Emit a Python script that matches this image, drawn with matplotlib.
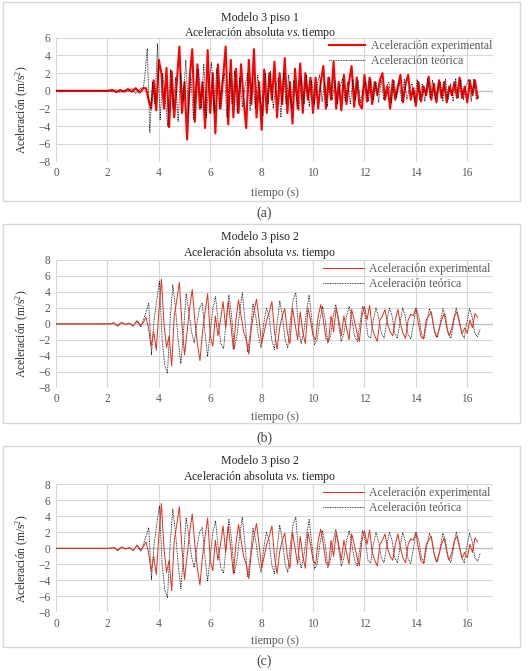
import numpy as np
import matplotlib
matplotlib.use("Agg")
import matplotlib.pyplot as plt
from matplotlib.patches import Rectangle

plt.rcParams['font.family'] = ['Liberation Serif', 'DejaVu Serif']
plt.rcParams['mathtext.fontset'] = 'custom'
plt.rcParams['mathtext.rm'] = 'Liberation Serif'
plt.rcParams['mathtext.it'] = 'Liberation Serif:italic'

# ---------------- data ----------------
# Panel (a): Modelo 3 piso 1
pre_t_a = [0.0, 2.0, 2.2, 2.35, 2.5, 2.65, 2.8, 2.95, 3.1, 3.25, 3.4]
pre_exp_a = [0.0, 0.0, 0.1, -0.15, 0.1, -0.1, 0.2, -0.1, 0.3, -0.2, 0.3]
pre_teo_a = [0.0, 0.0, -0.1, 0.15, -0.2, 0.1, -0.1, 0.3, -0.3, 0.2, 0.4]

exp_a_start, exp_a_dt = 3.50, 0.10
exp_a = [0.3, -1.0, -2.0, 1.2, -2.2, 3.5, 2.0, -2.0, 2.6, -4.1,
         2.2, -3.0, 1.0, 5.0, -2.5, 1.0, -5.5, 1.5, 4.7, -3.5,
         3.0, -2.0, 1.0, -4.2, 4.6, -2.5, 2.0, -4.8, 3.0, -2.0,
         1.5, 5.0, -3.8, 3.5, -3.0, 2.5, -2.5, 3.0, -1.0, -4.2,
         3.5, -1.5, 4.7, -3.0, 1.0, -4.4, 2.4, -2.5, 2.0, -1.0,
         3.3, -3.0, 2.0, -1.5, 3.7, -2.5, 1.0, -3.7, 2.5, -2.0,
         3.1, -2.5, 2.0, -1.0, 1.5, -2.5, 1.5, -2.0, 1.0, 2.8,
         -2.0, 1.5, -1.0, 3.3, -2.0, 1.0, -2.2, 1.8, -1.5, 1.0,
         2.8, -1.8, 1.5, -1.5, -2.0, 1.8, -1.2, 1.5, -1.5, 1.0,
         -0.5, 1.2, 2.0, -1.0, 0.5, -2.0, 1.2, -1.0, 0.5, 1.8,
         -1.3, 0.8, 1.8, -1.0, 0.3, -1.7, 1.0, -1.2, 0.5, -0.5,
         1.6, -1.0, 0.8, -1.3, 1.2, -0.8, 1.0, -1.3, 0.5, -0.5,
         1.0, -0.8, 1.5, -0.8, 0.5, -1.3, 1.2, -0.5, 1.2, -0.8]

teo_a_start, teo_a_dt = 3.45, 0.10
teo_a = [1.5, 4.8, -4.7, 1.0, -1.5, 5.3, -3.3, 2.0, -1.0, -4.0,
         2.4, -2.0, 1.5, -3.5, 2.0, -1.0, 3.5, -2.5, 1.5, -3.2,
         1.0, 2.5, -2.0, 3.0, -3.0, 1.0, 3.2, -2.5, 2.5, -2.0,
         1.0, 2.0, -3.0, 2.0, -1.5, 2.2, -2.5, 1.5, -1.8, 0.5,
         2.0, -2.2, 1.5, -2.0, 1.8, -1.0, -2.8, 2.0, -1.5, 2.2,
         -2.0, 0.5, 1.5, -3.0, 2.0, -1.5, 1.8, -2.0, 1.2, -0.5,
         -2.2, 1.5, -1.5, 1.8, -1.8, 1.2, -1.5, 0.5, 1.8, -1.2,
         1.0, -1.8, 1.5, -1.0, 1.2, -1.5, 0.5, 1.4, -1.2, 1.0,
         -1.5, 1.3, -1.0, 1.2, -1.4, 0.3, 1.0, -1.2, 1.3, -1.0,
         1.0, -1.3, 1.2, -1.0, 0.5, 1.0, -1.4, 1.2, -0.8, 1.0,
         -1.2, 1.3, -1.0, 0.3, 0.8, -1.2, 1.3, -1.0, 0.8, -1.2,
         1.4, -0.8, 1.2, -1.0, 0.3, 1.0, -1.2, 1.3, -1.0, 0.8,
         -1.2, 1.4, -0.8, 1.2, -1.0, 0.5, 1.3, -1.2, 1.3, -1.0,
         -0.5]

# Panel (b)/(c): Modelo 3 piso 2
pre_t_b = [0.0, 2.1, 2.25, 2.4, 2.55, 2.7, 2.85, 3.0, 3.15, 3.3]
pre_exp_b = [0.0, 0.0, 0.1, -0.3, 0.15, -0.1, 0.1, -0.3, 0.4, -0.2]
pre_teo_b = [0.0, 0.0, 0.15, -0.2, 0.2, -0.05, 0.05, -0.2, 0.3, -0.4]

exp_b_start, exp_b_dt = 3.40, 0.10
exp_b = [0.2, 0.8, -0.5, -2.8, -1.0, -3.3, 1.5, 5.6, 0.0, -3.0,
         -1.5, -5.3, 1.0, 3.0, 5.2, 0.0, -3.9, -1.0, 2.0, 4.3,
         0.5, -2.5, -4.6, -1.0, 1.5, 3.8, -1.5, -2.8, 1.0, -1.5,
         0.5, 2.8, -0.5, 2.8, 0.0, -3.2, 0.5, 3.0, 1.0, -1.0,
         -2.0, -3.8, -0.5, 1.5, 3.1, 0.5, -2.5, -1.0, 0.5, 1.5,
         2.8, -1.0, -3.2, -0.5, 1.0, 1.9, -1.0, -2.5, 2.0, 0.0,
         -2.0, 1.5, -1.0, -2.5, 2.0, 0.5, -1.5, -2.0, 1.0, 2.4,
         0.5, -1.8, -2.2, 1.0, -1.0, 2.0, 0.5, -1.5, 1.0, -0.5,
         -2.0, 1.8, 0.5, -1.0, -2.2, 1.0, 2.2, 0.5, 2.3, -0.5,
         -1.5, -2.2, 0.5, 1.0, 1.8, 0.0, -1.0, -1.5, 0.5, 1.8,
         0.0, -1.2, -1.8, 0.5, 1.2, 1.0, 2.0, 0.0, -1.6, -1.9,
         0.5, 1.0, 1.5, -0.5, -1.7, -0.8, 0.5, 1.3, -0.5, -1.5,
         -0.5, 1.0, 1.5, 0.0, -1.2, -0.5, -1.2, 0.5, -0.5, 1.3,
         0.8]

teo_b_start, teo_b_dt = 3.40, 0.104
teo_b = [0.5, 1.5, 2.6, -3.9, 0.5, 3.0, 5.3, -2.0, -5.2, -6.2,
         0.5, 4.9, 2.0, -2.0, -5.0, -1.0, 3.8, 1.5, -1.0, -2.4,
         0.0, 2.0, 2.6, -1.0, -4.1, -1.0, 2.0, 3.4, 0.0, -2.5,
         -3.1, 0.5, 3.6, 1.0, -3.1, -1.5, 1.5, 3.9, 0.5, -3.5,
         -1.0, 2.5, 1.0, -1.5, -3.0, 0.0, 2.0, 1.0, -2.0, -3.2,
         0.0, 2.9, 1.0, -2.0, -3.0, 0.5, 3.0, 3.9, -0.5, -2.5,
         -1.0, 1.5, 3.6, 0.5, -2.6, -2.0, 0.5, 2.2, 0.5, -2.4,
         -1.5, 1.0, 2.4, 0.0, -2.2, -1.2, 1.0, 2.2, 0.5, -1.5,
         -2.2, 0.0, 2.2, 1.0, -1.5, -1.8, 0.5, 2.0, 0.8, -1.2,
         -1.8, 0.2, 2.0, 1.0, -1.2, -1.8, 0.2, 2.0, 0.8, -1.3,
         -1.9, 0.0, 2.0, 1.0, -1.2, -1.8, 0.2, 1.9, 0.8, -1.2,
         -1.7, 0.0, 1.9, 1.0, -1.3, -1.8, 0.0, 2.0, 0.8, -1.2,
         -1.8, 0.2, 1.9, 0.8, -1.2, -1.6, -0.6]

titles = ["Modelo 3 piso 1", "Modelo 3 piso 2", "Modelo 3 piso 2"]
subtitles = [r'Aceleración absoluta $\mathit{vs.}$tiempo',
             r'Aceleración absoluta $\mathit{vs.}\,$tiempo',
             r'Aceleración absoluta $\mathit{vs.}\,$tiempo']
captions = ["(a)", "(b)", "(c)"]
y_ticks = [list(range(-8, 7, 2)), list(range(-8, 9, 2)), list(range(-8, 9, 2))]
x_ticks = list(range(0, 17, 2))
legend_labels = ["Aceleración experimental", "Aceleración teórica"]


def series(pre_t, pre_v, start, dt, vals):
    t = list(pre_t) + [round(start + dt * i, 3) for i in range(len(vals))]
    return np.array(t), np.array(list(pre_v) + list(vals))


panel_data = [
    (series(pre_t_a, pre_exp_a, exp_a_start, exp_a_dt, exp_a),
     series(pre_t_a, pre_teo_a, teo_a_start, teo_a_dt, teo_a)),
    (series(pre_t_b, pre_exp_b, exp_b_start, exp_b_dt, exp_b),
     series(pre_t_b, pre_teo_b, teo_b_start, teo_b_dt, teo_b)),
    (series(pre_t_b, pre_exp_b, exp_b_start, exp_b_dt, exp_b),
     series(pre_t_b, pre_teo_b, teo_b_start, teo_b_dt, teo_b)),
]

# ---------------- layout ----------------
W, H = 532, 671
fig = plt.figure(figsize=(W / 100, H / 100), dpi=100)

def fx(px):
    return px / W

def fy(py):
    return 1 - py / H

# (axes top px, axes bottom px, box top px, box bottom px, title y1, title y2, legend y, xlabel y, caption y)
layouts = [
    (37.7, 161.7, 2, 201, 18, 33, 46, 193, 213),
    (260.0, 387.7, 224, 423, 237, 253, 269, 417, 438),
    (484.3, 612.3, 446, 647, 461, 477, 493, 641, 661),
]
ax_left, ax_right = 56, 493
grey = '#595959'
grid_c = '#d9d9d9'

for i, (lay, data) in enumerate(zip(layouts, panel_data)):
    atop, abot, btop, bbot, ty1, ty2, ly, xly, cy = lay
    fig.patches.append(Rectangle((fx(3), fy(bbot)), fx(517), (bbot - btop) / H,
                                 transform=fig.transFigure, fill=False,
                                 edgecolor=grid_c, linewidth=1.0))
    ax = fig.add_axes([fx(ax_left), fy(abot), fx(ax_right - ax_left), (abot - atop) / H])
    (te, ve), (tt, vt) = data
    yt = y_ticks[i]
    ax.set_xlim(0, 17)
    ax.set_ylim(yt[0], yt[-1])
    ax.set_xticks(x_ticks)
    ax.set_yticks(yt)
    ax.set_yticklabels([("−" + str(-v)) if v < 0 else str(v) for v in yt])
    for v in yt:
        ax.axhline(v, color=grid_c, lw=0.8, zorder=0)
    for v in x_ticks:
        ax.axvline(v, color=grid_c, lw=0.8, zorder=0)
    ax.axvline(17, color=grid_c, lw=0.8, zorder=0)
    ax.axhline(0, color='#bfbfbf', lw=0.9, zorder=0.5)
    for s in ax.spines.values():
        s.set_visible(False)
    ax.tick_params(length=0, labelsize=8.3, labelcolor=grey, pad=4)

    if i == 0:
        l1, = ax.plot(te, ve, color='#ff0000', lw=1.5, zorder=2)
        l2, = ax.plot(tt, vt, color='black', lw=0.6, ls=(0, (1, 1)), zorder=3)
    else:
        l2, = ax.plot(tt, vt, color='black', lw=0.6, ls=(0, (1, 1)), zorder=2)
        l1, = ax.plot(te, ve, color='#e0301e', lw=0.7, zorder=3)

    leg_x0 = 333 if i == 0 else 327
    leg = ax.legend([l1, l2], legend_labels, loc='upper left', frameon=False,
                    bbox_to_anchor=((leg_x0 - 6 - ax_left) / (ax_right - ax_left),
                                    1 - (ly - 8 - atop) / (abot - atop)),
                    fontsize=8.5, handlelength=3.0 if i == 0 else 3.4,
                    handletextpad=0.5, labelspacing=0.25, borderaxespad=0,
                    borderpad=0.2)
    for t in leg.get_texts():
        t.set_color(grey)

    cx = 260
    fig.text(fx(cx), fy(ty1), titles[i], ha='center', va='center', fontsize=8.6, color='#262626')
    fig.text(fx(cx), fy(ty2), subtitles[i], ha='center',
             va='center', fontsize=8.6, color='#262626')
    fig.text(fx(275), fy(xly), 'tiempo (s)', ha='center', va='center',
             fontsize=8.5, color=grey)
    fig.text(fx(22), fy((atop + abot) / 2 + 10), 'Aceleración (m/s$^2$)', ha='center', va='center',
             rotation=90, fontsize=8.3, color='#262626')
    fig.text(fx(264), fy(cy), captions[i], ha='center', va='center', fontsize=10, color='#404040')

fig.savefig('out.png', dpi=100)
